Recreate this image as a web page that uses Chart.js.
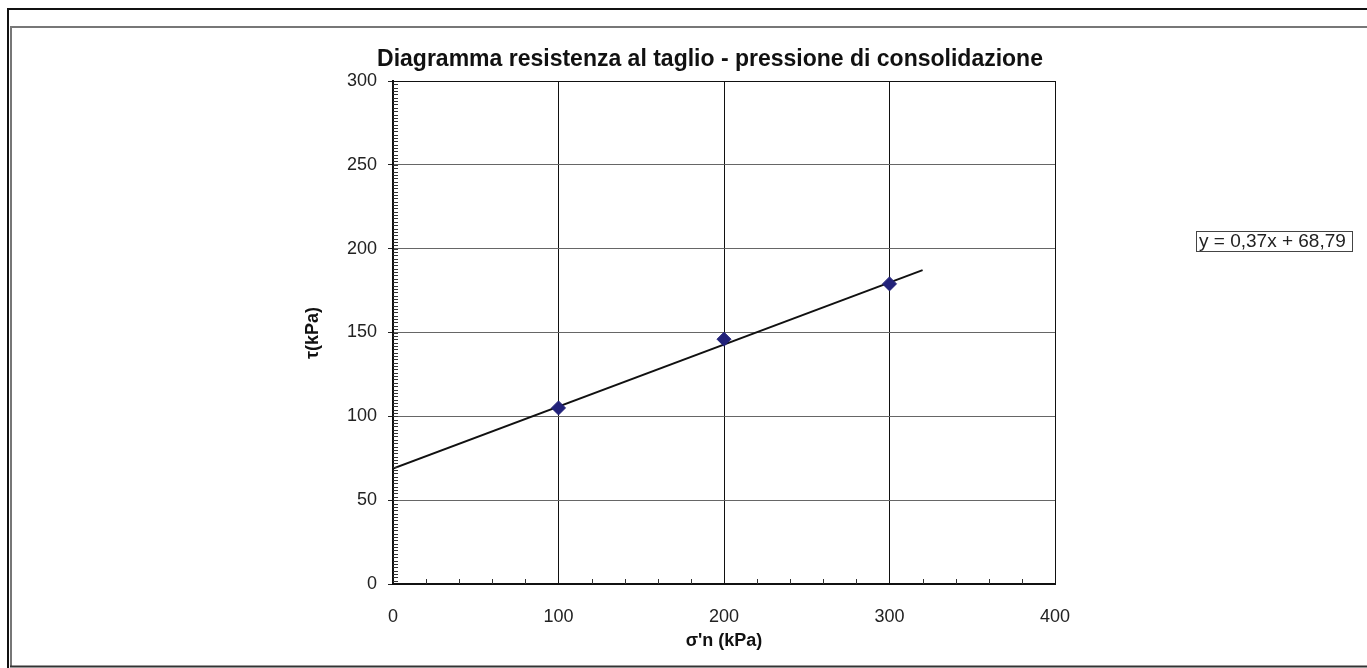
<!DOCTYPE html>
<html>
<head>
<meta charset="utf-8">
<script src="https://cdn.jsdelivr.net/npm/chart.js@4/dist/chart.umd.min.js"></script>
<style>
  html, body { margin: 0; padding: 0; background: #fff; }
  #wrap { width: 1367px; height: 668px; }
</style>
</head>
<body>
<div id="wrap"><canvas id="chart" width="1367" height="668"></canvas></div>
<script>
// Data
var sigmaN = [100, 200, 300];
var tau = [105, 146, 179];
var trendX = [0, 320];
var trendY = [68.8, 187.2];
var xTicks = [0, 100, 200, 300, 400];
var yTicks = [0, 50, 100, 150, 200, 250, 300];
var equation = 'y = 0,37x + 68,79';

var FONT = 'Arial, "Liberation Sans", sans-serif';

// frames, title, texts, minor ticks
var decor = {
    id: 'decor',
    beforeDraw: function(chart) {
        var c = chart.ctx;
        c.save();
        c.fillStyle = '#fff';
        c.fillRect(0, 0, chart.width, chart.height);
        // outer black line
        c.strokeStyle = '#111';
        c.lineWidth = 2;
        c.beginPath();
        c.moveTo(7, 9); c.lineTo(1367, 9);
        c.moveTo(8, 8); c.lineTo(8, 668);
        c.stroke();
        // inner frame
        c.strokeStyle = '#777';
        c.lineWidth = 2;
        c.beginPath();
        c.moveTo(1367, 27); c.lineTo(11, 27); c.lineTo(11, 666);
        c.stroke();
        c.strokeStyle = '#333';
        c.beginPath();
        c.moveTo(10, 666.5); c.lineTo(1367, 666.5);
        c.stroke();
        c.restore();
    },
    afterDraw: function(chart) {
        var c = chart.ctx;
        var xs = chart.scales.x, ys = chart.scales.y;
        var a = chart.chartArea;
        c.save();
        // minor ticks
        c.strokeStyle = '#333';
        c.lineWidth = 1;
        c.beginPath();
        for (var v = 20; v < 400; v += 20) {
            if (v % 100 === 0) continue;
            var px = Math.round(xs.getPixelForValue(v)) + 0.5;
            c.moveTo(px, a.bottom); c.lineTo(px, a.bottom - 5);
        }
        for (var w = 2; w < 300; w += 2) {
            var py = Math.round(ys.getPixelForValue(w)) + 0.5;
            c.moveTo(a.left, py); c.lineTo(a.left + 5, py);
        }
        c.stroke();

        // title
        c.fillStyle = '#111';
        c.textAlign = 'center';
        c.textBaseline = 'middle';
        c.font = 'bold 23px ' + FONT;
        c.fillText('Diagramma resistenza al taglio - pressione di consolidazione', 710, 60);
        // axis titles
        c.font = 'bold 18px ' + FONT;
        c.fillText("\u03c3'n (kPa)", 724, 641);
        c.save();
        c.translate(313, 333);
        c.rotate(-Math.PI / 2);
        c.fillText('\u03c4(kPa)', 0, 0);
        c.restore();

        // equation box
        c.strokeStyle = '#444';
        c.lineWidth = 1;
        c.strokeRect(1196.5, 231.5, 156, 20);
        c.font = '19px ' + FONT;
        c.textAlign = 'left';
        c.fillStyle = '#222';
        c.fillText(equation, 1199, 242);
        c.restore();
    }
};

var ctx = document.getElementById('chart');
var chart = new Chart(ctx, {
    type: 'scatter',
    data: {
        datasets: [{
            label: 'tau',
            data: sigmaN.map(function(x, i) { return { x: x, y: tau[i] }; }),
            pointStyle: 'rectRot',
            pointRadius: 7,
            pointHoverRadius: 7,
            backgroundColor: '#22227a',
            borderColor: '#22227a',
            borderWidth: 1,
            order: 1
        }, {
            label: 'trend',
            data: trendX.map(function(x, i) { return { x: x, y: trendY[i] }; }),
            showLine: true,
            pointRadius: 0,
            borderColor: '#111',
            borderWidth: 2,
            order: 2
        }]
    },
    options: {
        responsive: false,
        animation: false,
        events: [],
        layout: { padding: { left: 0, top: 81, right: 312, bottom: 0 } },
        plugins: {
            legend: { display: false },
            tooltip: { enabled: false },
            title: { display: false }
        },
        scales: {
            x: {
                type: 'linear',
                min: 0, max: 400,
                afterFit: function(s) { s.height = 84; },
                afterBuildTicks: function(s) { s.ticks = xTicks.map(function(v) { return { value: v }; }); },
                grid: { color: '#111', lineWidth: 1, drawTicks: false },
                border: { color: '#111', width: 2 },
                ticks: { color: '#222', font: { family: FONT, size: 18 }, padding: 22, maxRotation: 0 }
            },
            y: {
                type: 'linear',
                min: 0, max: 300,
                afterFit: function(s) { s.width = 393; },
                afterBuildTicks: function(s) { s.ticks = yTicks.map(function(v) { return { value: v }; }); },
                grid: {
                    color: function(c) { return (c.tick && (c.tick.value === 0 || c.tick.value === 300)) ? '#111' : '#666'; },
                    lineWidth: 1,
                    tickLength: 5,
                    tickColor: '#222'
                },
                border: { color: '#111', width: 2 },
                ticks: { color: '#222', font: { family: FONT, size: 18 }, padding: 11 }
            }
        }
    },
    plugins: [decor]
});
</script>
</body>
</html>
